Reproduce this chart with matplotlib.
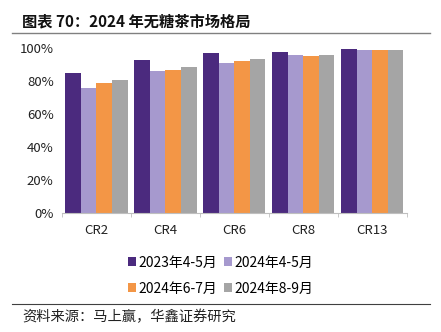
import matplotlib
matplotlib.use("Agg")
import matplotlib.pyplot as plt
import numpy as np
from matplotlib.ticker import FuncFormatter, FixedLocator

plt.rcParams['font.family'] = ['Noto Sans CJK SC', 'DejaVu Sans']

categories = ["CR2", "CR4", "CR6", "CR8", "CR13"]
series_names = ["2023年4-5月", "2024年4-5月", "2024年6-7月", "2024年8-9月"]
s2023_45 = [0.85, 0.929, 0.97, 0.98, 0.998]
s2024_45 = [0.759, 0.86, 0.911, 0.962, 0.992]
s2024_67 = [0.789, 0.87, 0.921, 0.951, 0.992]
s2024_89 = [0.805, 0.884, 0.937, 0.957, 0.988]
yticks = [0, 0.2, 0.4, 0.6, 0.8, 1.0]

colors = ["#4B2A7E", "#A699CE", "#F39646", "#A5A5A5"]
values = [s2023_45, s2024_45, s2024_67, s2024_89]

fig = plt.figure(figsize=(4.41, 3.32), dpi=100)
ax = fig.add_axes([0.1406, 0.359, 0.782, 0.4955])

x = np.arange(len(categories))
w = 0.225
bars = []
for i, (vals, c, name) in enumerate(zip(values, colors, series_names)):
    b = ax.bar(x + (i - 1.5) * w, vals, width=w, color=c, label=name)
    bars.append(b)

ax.set_xlim(-0.5, len(categories) - 0.5)
ax.set_ylim(0, 1.0)
ax.set_yticks(yticks)
ax.yaxis.set_major_formatter(FuncFormatter(lambda v, p: f"{v*100:.0f}%"))
ax.tick_params(axis='y', length=0, labelsize=9.5, pad=6, colors='#222222')
ax.set_xticks(x)
ax.set_xticklabels(categories)
ax.tick_params(axis='x', length=0, labelsize=9.5, pad=8, colors='#222222')
ax.xaxis.set_minor_locator(FixedLocator(np.arange(-0.5, len(categories), 1.0)))
ax.tick_params(axis='x', which='minor', length=3, color='#BFBFBF', direction='out')
for s in ['top', 'right', 'left']:
    ax.spines[s].set_visible(False)
ax.spines['bottom'].set_color('#BFBFBF')
ax.spines['bottom'].set_linewidth(0.8)

order = [0, 2, 1, 3]
leg = fig.legend([bars[i] for i in order], [series_names[i] for i in order],
                 loc='center', bbox_to_anchor=(0.5, 0.17), ncol=2, frameon=False,
                 fontsize=10, handlelength=0.6, handleheight=0.6, handletextpad=0.15,
                 columnspacing=0.5, labelspacing=0.85)

fig.text(0.05, 0.935, "图表 70：2024 年无糖茶市场格局", fontsize=11, fontweight='bold',
         ha='left', va='center', color='#111111')
fig.add_artist(plt.Line2D([0.027, 0.975], [0.9, 0.9], color='#808080', lw=1.0))
fig.add_artist(plt.Line2D([0.027, 0.975], [0.083, 0.083], color='#404040', lw=0.8))
fig.text(0.05, 0.045, "资料来源：马上赢，华鑫证券研究", fontsize=10.3, ha='left', va='center',
         color='#222222')

fig.savefig("out.png", dpi=100)
